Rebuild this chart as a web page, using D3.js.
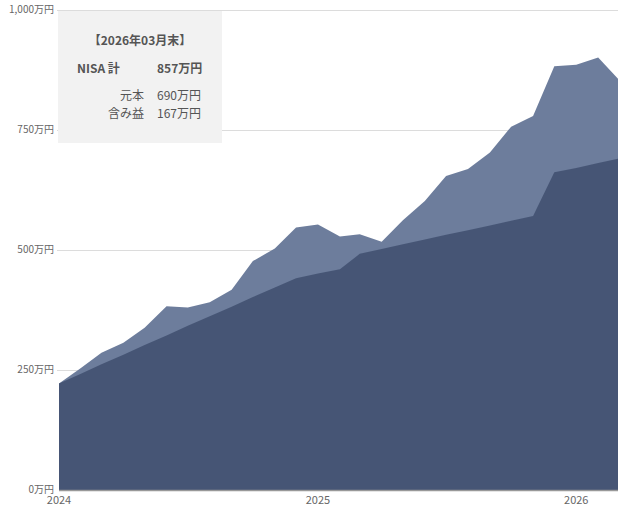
<!DOCTYPE html>
<html>
<head>
<meta charset="utf-8">
<script src="https://cdn.jsdelivr.net/npm/d3@7"></script>
<style>
  body { margin: 0; background: #fff; font-family: "Noto Sans CJK JP", "Noto Sans", sans-serif; }
  svg text { fill: #666; }
</style>
</head>
<body>
<svg id="chart" width="622" height="511"></svg>
<script>
// months from 2024-01 to 2026-03
const months = d3.range(27).map(i => new Date(2024, i, 1))

// 元本 (principal), 万円
const principal = [222, 242, 262, 282, 302, 322, 342, 362, 382, 402, 422, 441,
  451, 460, 492, 502, 512, 522, 532, 541, 551, 561, 571, 662, 671, 681, 690]

// NISA 計 (total value), 万円
const total = [222, 254, 286, 307, 338, 383, 380, 391, 417, 477, 503, 547,
  553, 528, 533, 517, 562, 602, 654, 669, 703, 757, 779, 883, 886, 901, 857]

const yTicks = [0, 250, 500, 750, 1000]
const xTicks = [new Date(2024, 0, 1), new Date(2025, 0, 1), new Date(2026, 0, 1)]

const tipTitle = "【2026年03月末】"
const tipRows = [
  { label: "元本", value: "690万円" },
  { label: "含み益", value: "167万円" }
]

const margin = { left: 59, right: 4, top: 10, bottom: 21 }
const width = 622, height = 511

const svg = d3.select("#chart")

const x = d3.scaleTime()
  .domain([months[0], months[months.length - 1]])
  .range([margin.left, width - margin.right])
const y = d3.scaleLinear()
  .domain([0, 1000])
  .range([height - margin.bottom, margin.top])

// gridlines
svg.append("g")
  .selectAll("line")
  .data(yTicks.filter(d => d > 0))
  .join("line")
  .attr("x1", margin.left - 2)
  .attr("x2", width - margin.right)
  .attr("y1", d => y(d) + 0.5)
  .attr("y2", d => y(d) + 0.5)
  .attr("stroke", "#dcdcdc")
  .attr("stroke-width", 1)

// areas
let totalArea = d3.area()
  .x((d, i) => x(months[i]))
  .y0(y(0))
  .y1(d => y(d))
let principalArea = d3.area()
  .x((d, i) => x(months[i]))
  .y0(y(0))
  .y1(d => y(d))

svg.append("path")
  .datum(total)
  .attr("d", totalArea)
  .attr("fill", "#6a7a9a")
  .attr("fill-opacity", 0.98)
svg.append("path")
  .datum(principal)
  .attr("d", principalArea)
  .attr("fill", "#455574")
  .attr("fill-opacity", 0.98)

// bottom axis line
svg.append("line")
  .attr("x1", margin.left)
  .attr("x2", width - margin.right)
  .attr("y1", y(0) + 0.5)
  .attr("y2", y(0) + 0.5)
  .attr("stroke", "#999")
  .attr("stroke-width", 1.5)

// y labels
svg.append("g")
  .selectAll("text")
  .data(yTicks)
  .join("text")
  .attr("x", margin.left - 5)
  .attr("y", d => y(d) + 3)
  .attr("text-anchor", "end")
  .attr("font-size", 10)
  .text(d => d3.format(",")(d) + "万円")

// x labels
svg.append("g")
  .selectAll("text")
  .data(xTicks)
  .join("text")
  .attr("x", d => x(d))
  .attr("y", y(0) + 14)
  .attr("text-anchor", "middle")
  .attr("font-size", 11)
  .text(d => d.getFullYear())

// tooltip box
let tip = svg.append("g")
tip.append("rect")
  .attr("x", 58).attr("y", 11)
  .attr("width", 164).attr("height", 132)
  .attr("fill", "#f2f2f2")
tip.append("text")
  .attr("x", 140).attr("y", 45)
  .attr("text-anchor", "middle")
  .attr("font-size", 12).attr("font-weight", "bold")
  .attr("fill", "#555").style("fill", "#555")
  .text(tipTitle)
tip.append("text")
  .attr("x", 77).attr("y", 73)
  .attr("font-size", 12).attr("font-weight", "bold")
  .style("fill", "#555")
  .text("NISA 計")
tip.append("text")
  .attr("x", 157).attr("y", 73)
  .attr("font-size", 12).attr("font-weight", "bold")
  .style("fill", "#555")
  .text(total[total.length - 1] + "万円")
tipRows.forEach((r, i) => {
  tip.append("text")
    .attr("x", 144).attr("y", 100 + i * 18)
    .attr("text-anchor", "end")
    .attr("font-size", 12)
    .style("fill", "#555")
    .text(r.label)
  tip.append("text")
    .attr("x", 157).attr("y", 100 + i * 18)
    .attr("font-size", 12)
    .style("fill", "#555")
    .text(r.value)
})
</script>
</body>
</html>
